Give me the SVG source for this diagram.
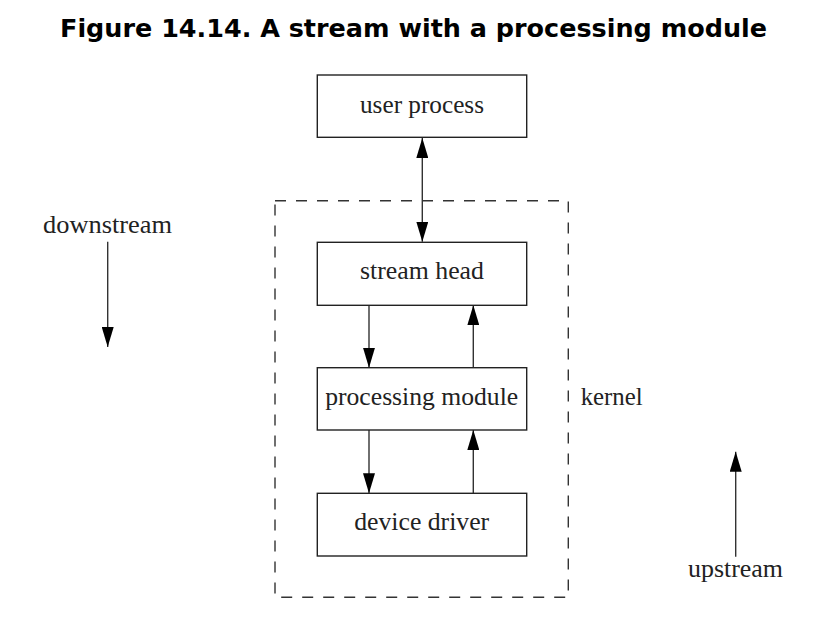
<svg xmlns="http://www.w3.org/2000/svg" width="824" height="622" viewBox="0 0 824 622">
<defs>
<style>
.box{fill:#fff;stroke:#222;stroke-width:1.4}
.lbl{font-family:"Liberation Serif","Times New Roman",serif;font-size:25px;fill:#222}
.line{stroke:#333;stroke-width:1.4;fill:none}
.title{font-family:"DejaVu Sans",sans-serif;font-weight:bold;font-size:25.5px;fill:#000}
</style>
<marker id="ah" viewBox="0 0 20 12" refX="20" refY="6" markerWidth="20" markerHeight="12" markerUnits="userSpaceOnUse" orient="auto">
<path d="M0,0 L20,6 L0,12 Z" fill="#000"/>
</marker>
<marker id="ahs" viewBox="0 0 20 12" refX="0" refY="6" markerWidth="20" markerHeight="12" markerUnits="userSpaceOnUse" orient="auto">
<path d="M20,0 L0,6 L20,12 Z" fill="#000"/>
</marker>
</defs>
<rect width="824" height="622" fill="#fff"/>
<text class="title" x="60" y="37" textLength="707" lengthAdjust="spacingAndGlyphs">Figure 14.14. A stream with a processing module</text>
<g id="kernel">
<rect x="275" y="200.7" width="293.3" height="396.6" fill="none" stroke="#333" stroke-width="1.4" stroke-dasharray="11,10"/>
<text class="lbl" x="580.7" y="405" textLength="62" lengthAdjust="spacingAndGlyphs">kernel</text>
</g>
<g id="connectors">
<line class="line" x1="422.3" y1="138" x2="422.3" y2="241.7" marker-start="url(#ahs)" marker-end="url(#ah)"/>
<line class="line" x1="369" y1="305.3" x2="369" y2="367.7" marker-end="url(#ah)"/>
<line class="line" x1="473.3" y1="367.7" x2="473.3" y2="305.3" marker-end="url(#ah)"/>
<line class="line" x1="369" y1="430" x2="369" y2="493.3" marker-end="url(#ah)"/>
<line class="line" x1="473.3" y1="493.3" x2="473.3" y2="430" marker-end="url(#ah)"/>
<line class="line" x1="107.7" y1="241.7" x2="107.7" y2="347" marker-end="url(#ah)"/>
<line class="line" x1="735.7" y1="556.7" x2="735.7" y2="451.7" marker-end="url(#ah)"/>
</g>
<g id="user-process">
<rect class="box" x="317.3" y="75" width="209.4" height="62.3"/>
<text class="lbl" x="422" y="112.5" text-anchor="middle" textLength="124" lengthAdjust="spacingAndGlyphs">user process</text>
</g>
<g id="stream-head">
<rect class="box" x="317.3" y="242.3" width="209.4" height="63"/>
<text class="lbl" x="422" y="278.5" text-anchor="middle" textLength="124" lengthAdjust="spacingAndGlyphs">stream head</text>
</g>
<g id="processing-module">
<rect class="box" x="317.3" y="367.7" width="209.4" height="62.3"/>
<text class="lbl" x="421.7" y="405" text-anchor="middle" textLength="193" lengthAdjust="spacingAndGlyphs">processing module</text>
</g>
<g id="device-driver">
<rect class="box" x="317.3" y="493.3" width="209.4" height="62.7"/>
<text class="lbl" x="421.7" y="530" text-anchor="middle" textLength="135" lengthAdjust="spacingAndGlyphs">device driver</text>
</g>
<g id="downstream">
<text class="lbl" x="43" y="233" textLength="129" lengthAdjust="spacingAndGlyphs">downstream</text>
</g>
<g id="upstream">
<text class="lbl" x="688" y="576.7" textLength="95" lengthAdjust="spacingAndGlyphs">upstream</text>
</g>
</svg>
